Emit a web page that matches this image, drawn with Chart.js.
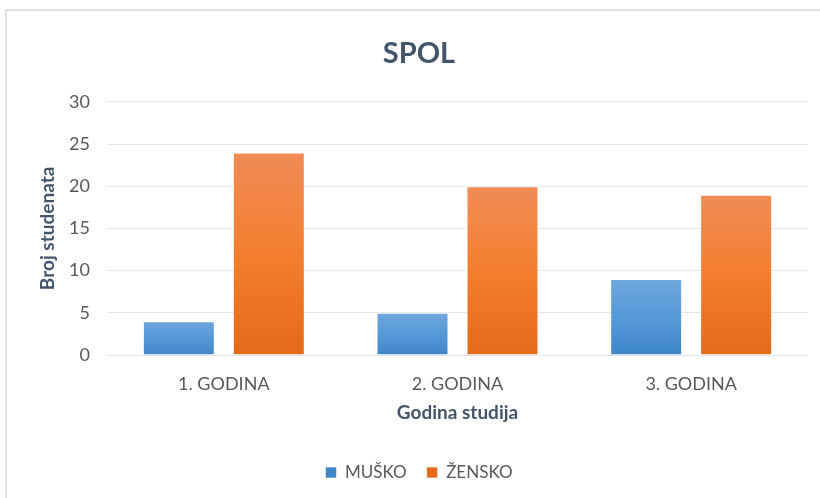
<!DOCTYPE html>
<html>
<head>
<meta charset="utf-8">
<script src="https://cdn.jsdelivr.net/npm/chart.js@4"></script>
<style>
  html, body { margin: 0; padding: 0; background: #fff; }
  #wrap { position: relative; width: 820px; height: 498px; overflow: hidden; }
  #frame { position: absolute; left: 5px; top: 9px; width: 900px; height: 600px; border: 2px solid #dfe4ec; box-sizing: border-box; }
  canvas { position: absolute; left: 0; top: 0; }
</style>
</head>
<body>
<div id="wrap">
  <div id="frame"></div>
  <canvas id="c" width="820" height="498"></canvas>
</div>
<script>
const categories = ['1. GODINA', '2. GODINA', '3. GODINA'];
const musko = [4, 5, 9];
const zensko = [24, 20, 19];
const seriesNames = ['MUŠKO', 'ŽENSKO'];

function barGradient(stops) {
  return function (ctx) {
    const chart = ctx.chart;
    const y = chart.scales.y;
    if (!y || ctx.parsed === undefined || !chart.chartArea) return stops[1];
    const top = y.getPixelForValue(ctx.parsed.y);
    const bottom = y.getPixelForValue(0);
    if (!isFinite(top) || !isFinite(bottom) || top === bottom) return stops[1];
    const g = chart.ctx.createLinearGradient(0, top, 0, bottom);
    g.addColorStop(0, stops[0]);
    g.addColorStop(0.5, stops[1]);
    g.addColorStop(1, stops[2]);
    return g;
  };
}

const FONT = 'Lato, "Open Sans", sans-serif';

new Chart(document.getElementById('c'), {
  type: 'bar',
  data: {
    labels: categories,
    datasets: [
      { label: seriesNames[0], data: musko,
        backgroundColor: barGradient(['#70a7de', '#5599d8', '#3f86c8']),
        borderColor: 'rgba(255,255,255,0.6)', borderWidth: 1,
        categoryPercentage: 0.77, barPercentage: 0.8 },
      { label: seriesNames[1], data: zensko,
        backgroundColor: barGradient(['#f08c56', '#f47e2e', '#e36a18']),
        borderColor: 'rgba(255,255,255,0.6)', borderWidth: 1,
        categoryPercentage: 0.77, barPercentage: 0.8 }
    ]
  },
  options: {
    responsive: false,
    animation: false,
    layout: { padding: { left: 30, right: 12, top: 10, bottom: 7 } },
    plugins: {
      title: {
        display: true, text: 'SPOL', color: '#44546a',
        font: { family: FONT, size: 29, weight: 'bold' },
        padding: { top: 26, bottom: 31 }
      },
      legend: {
        position: 'bottom',
        labels: {
          color: '#595959', font: { family: FONT, size: 17 },
          boxWidth: 11, boxHeight: 11, padding: 20
        }
      },
      tooltip: { enabled: false }
    },
    scales: {
      x: {
        grid: { display: false, drawTicks: false },
        border: { display: false },
        ticks: { color: '#595959', font: { family: FONT, size: 18 }, padding: 18 },
        title: { display: true, text: 'Godina studija', color: '#44546a',
          font: { family: FONT, size: 19, weight: 'bold' }, padding: { top: 0, bottom: 20 } },
        afterFit: function (scale) { scale.height = 89; }
      },
      y: {
        min: 0, max: 30,
        grid: { color: '#e4e7ee', lineWidth: 1, drawTicks: false },
        border: { display: false },
        ticks: { stepSize: 5, color: '#595959', font: { family: FONT, size: 18 }, padding: 17 },
        title: { display: true, text: 'Broj studenata', color: '#44546a',
          font: { family: FONT, size: 19, weight: 'bold' }, padding: { top: 6, bottom: 0 } },
        afterFit: function (scale) { scale.width = 77; }
      }
    }
  }
});
</script>
</body>
</html>
